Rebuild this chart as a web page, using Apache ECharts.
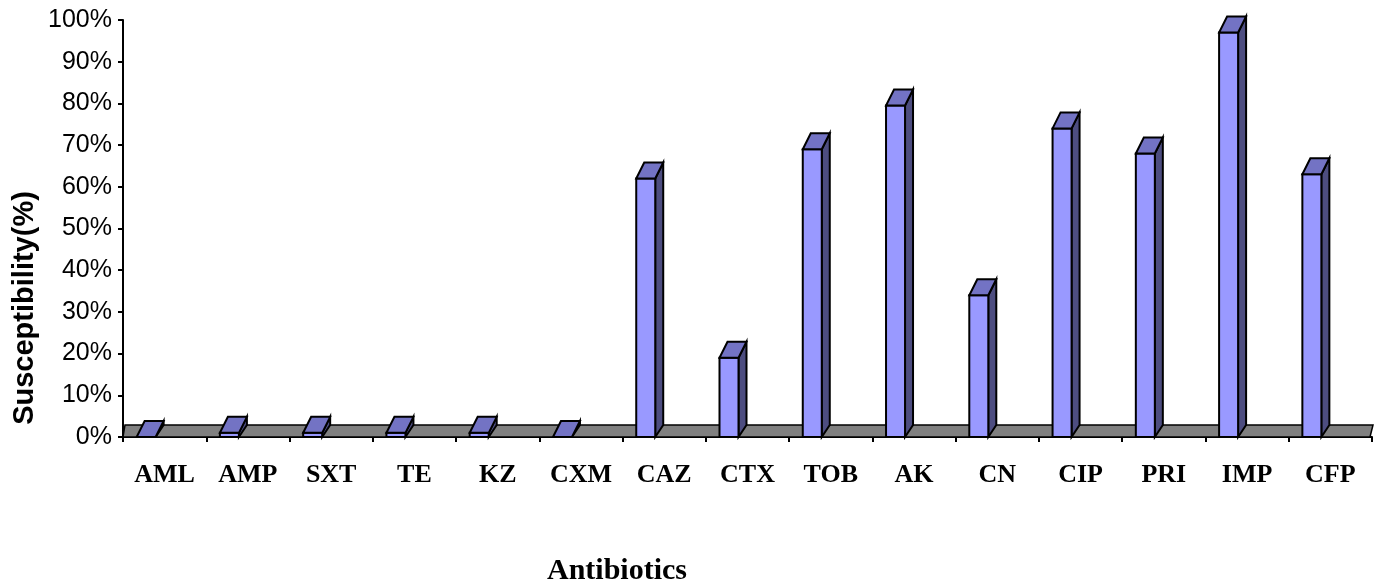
<!DOCTYPE html>
<html>
<head>
<meta charset="utf-8">
<script src="https://cdn.jsdelivr.net/npm/echarts@6/dist/echarts.min.js"></script>
<style>
html,body{margin:0;padding:0;background:#fff;}
#chart{width:1379px;height:588px;}
</style>
</head>
<body>
<div id="chart"></div>
<script>
// ---- data ----
const categories = ['AML','AMP','SXT','TE','KZ','CXM','CAZ','CTX','TOB','AK','CN','CIP','PRI','IMP','CFP'];
const susceptibility = [0, 1, 1, 1, 1, 0, 62, 19, 69, 79.5, 34, 74, 68, 97, 63];
const yTicks = [0, 10, 20, 30, 40, 50, 60, 70, 80, 90, 100];
const xTitle = 'Antibiotics';
const yTitle = 'Susceptibility(%)';

const chart = echarts.init(document.getElementById('chart'));

const DX = 8, DY = 16, FRONT_W = 19, FRONT_OFF = -28;

function renderBar(params, api) {
  const idx = api.value(0), v = api.value(1);
  const base = api.coord([idx, 0]);
  const top = api.coord([idx, v]);
  const x0 = base[0] + FRONT_OFF, yb = base[1], yt = top[1];
  const w = FRONT_W;
  return {
    type: 'group',
    children: [
      {type: 'polygon', shape: {points: [[x0 + w, yt], [x0 + w + DX, yt - DY], [x0 + w + DX, yb - DY + 4], [x0 + w, yb]]},
       style: {fill: '#4D4D80', stroke: '#000', lineWidth: 2}},
      {type: 'rect', shape: {x: x0, y: yt, width: w, height: yb - yt},
       style: {fill: '#9999FF', stroke: '#000', lineWidth: 2}},
      {type: 'polygon', shape: {points: [[x0, yt], [x0 + w, yt], [x0 + w + DX, yt - DY], [x0 + DX, yt - DY]]},
       style: {fill: '#7373C4', stroke: '#000', lineWidth: 2}}
    ]
  };
}

function renderFloor(params, api) {
  const cs = params.coordSys;
  const L = cs.x, R = cs.x + cs.width, yb = cs.y + cs.height;
  return {
    type: 'polygon',
    shape: {points: [[L, yb], [R - 2, yb], [R + 1, yb - 12], [L + 2, yb - 12]]},
    style: {fill: '#808080', stroke: '#000', lineWidth: 1.5}
  };
}

chart.setOption({
  animation: false,
  grid: {left: 123, right: 7, top: 20, bottom: 151},
  xAxis: {
    type: 'category',
    data: categories,
    axisLine: {show: true, lineStyle: {color: '#000', width: 2}},
    axisTick: {show: true, length: 5, lineStyle: {color: '#000', width: 2}},
    axisLabel: {
      margin: 25, color: '#000', fontSize: 26, fontWeight: 'bold',
      fontFamily: '"Liberation Serif", "DejaVu Serif", serif'
    },
    splitLine: {show: false}
  },
  yAxis: {
    type: 'value',
    min: 0, max: 100, interval: 10,
    axisLine: {show: true, lineStyle: {color: '#000', width: 2}},
    axisTick: {show: true, length: 5, lineStyle: {color: '#000', width: 2}},
    axisLabel: {
      margin: 11, color: '#000', fontSize: 25,
      fontFamily: '"Liberation Sans", "DejaVu Sans", sans-serif',
      formatter: function (v) { return yTicks.indexOf(v) >= 0 ? v + '%' : ''; }
    },
    splitLine: {show: false}
  },
  graphic: [
    {type: 'text', x: 617, y: 571, style: {text: xTitle, textAlign: 'center', textVerticalAlign: 'middle',
      font: 'bold 30px "Liberation Serif", "DejaVu Serif", serif', fill: '#000'}},
    {type: 'text', x: 25, y: 308, rotation: Math.PI / 2, style: {text: yTitle, textAlign: 'center', textVerticalAlign: 'middle',
      font: 'bold 29px "Liberation Sans", "DejaVu Sans", sans-serif', fill: '#000'}}
  ],
  series: [
    {type: 'custom', renderItem: renderFloor, data: [[0, 0]], silent: true, z: 1},
    {type: 'custom', renderItem: renderBar, data: susceptibility.map((v, i) => [i, v]), z: 2,
     encode: {x: 0, y: 1}}
  ]
});
</script>
</body>
</html>
